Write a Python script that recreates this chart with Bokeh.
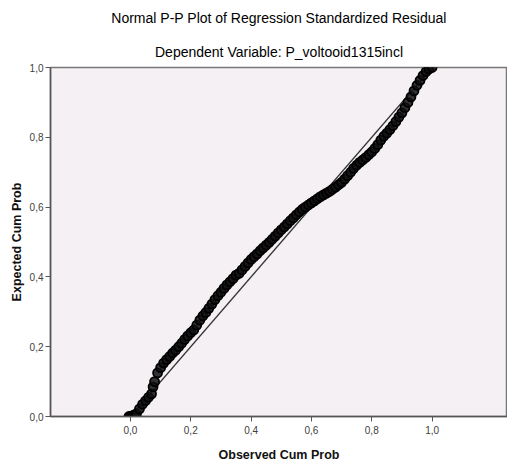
from bokeh.plotting import figure
from bokeh.models import Title, FixedTicker, CustomJSTickFormatter, Range1d
from bokeh.embed import file_html
from bokeh.resources import INLINE

title_line1 = "Normal P-P Plot of Regression Standardized Residual"
title_line2 = "Dependent Variable: P_voltooid1315incl"
x_label = "Observed Cum Prob"
y_label = "Expected Cum Prob"
tick_values = [0.0, 0.2, 0.4, 0.6, 0.8, 1.0]

observed = [
    -0.005, 0.0, 0.005, 0.01, 0.015, 0.02, 0.03, 0.04, 0.05, 0.06, 0.07, 0.075, 0.08, 0.09,
    0.10, 0.11, 0.12, 0.13, 0.14, 0.15, 0.16, 0.17, 0.18, 0.19,
    0.20, 0.21, 0.22, 0.23, 0.24, 0.25, 0.26, 0.27, 0.28, 0.29,
    0.30, 0.31, 0.32, 0.33, 0.34, 0.35, 0.36, 0.37, 0.38, 0.39,
    0.40, 0.41, 0.42, 0.43, 0.44, 0.45, 0.46, 0.47, 0.48, 0.49,
    0.50, 0.51, 0.52, 0.53, 0.54, 0.55, 0.56, 0.57, 0.58, 0.59,
    0.60, 0.61, 0.62, 0.63, 0.64, 0.65, 0.66, 0.67, 0.68, 0.69,
    0.70, 0.71, 0.72, 0.73, 0.74, 0.75, 0.76, 0.77, 0.78, 0.79,
    0.80, 0.81, 0.82, 0.83, 0.84, 0.85, 0.86, 0.87, 0.88, 0.89,
    0.90, 0.91, 0.92, 0.93, 0.94, 0.95, 0.96, 0.97, 0.98, 0.99, 1.0,
]
expected = [
    0.0, 0.0, 0.002, 0.003, 0.005, 0.008, 0.022, 0.035, 0.045, 0.055, 0.065, 0.085, 0.10, 0.125,
    0.14, 0.153, 0.163, 0.172, 0.182, 0.19, 0.20, 0.21, 0.221, 0.231,
    0.24, 0.248, 0.262, 0.276, 0.288, 0.298, 0.31, 0.322, 0.335, 0.346,
    0.356, 0.367, 0.377, 0.386, 0.395, 0.405, 0.41, 0.42, 0.43, 0.44,
    0.45, 0.458, 0.466, 0.475, 0.483, 0.491, 0.499, 0.508, 0.517, 0.526,
    0.535, 0.543, 0.552, 0.561, 0.569, 0.578, 0.586, 0.594, 0.60, 0.606,
    0.612, 0.618, 0.624, 0.63, 0.635, 0.64, 0.645, 0.651, 0.657, 0.664,
    0.671, 0.68, 0.69, 0.70, 0.711, 0.72, 0.728, 0.735, 0.742, 0.75,
    0.758, 0.768, 0.779, 0.792, 0.803, 0.812, 0.822, 0.833, 0.845, 0.858,
    0.87, 0.885, 0.90, 0.916, 0.933, 0.949, 0.963, 0.977, 0.988, 0.996, 1.0,
]
ref_line = [0.0, 1.0]

FONT = "Liberation Sans"

p = figure(frame_width=457, frame_height=349, output_backend="svg", toolbar_location=None,
           x_range=Range1d(-0.265, 1.25), y_range=Range1d(0, 1),
           min_border_left=50, min_border_right=0, min_border_top=67, min_border_bottom=45)
p.title = None
p.background_fill_color = "#F4F0F4"
p.border_fill_color = "white"
p.outline_line_color = "#777777"
p.outline_line_width = 1.5
p.grid.visible = False

p.add_layout(Title(text=title_line2, align="center", text_font=FONT, text_font_size="14px",
                   text_font_style="normal", text_color="#000000", standoff=16), "above")
p.add_layout(Title(text=title_line1, align="center", text_font=FONT, text_font_size="14px",
                   text_font_style="normal", text_color="#000000", standoff=15), "above")

fmt = CustomJSTickFormatter(code="return tick.toFixed(1).replace('.', ',');")
for ax in (p.xaxis[0], p.yaxis[0]):
    ax.ticker = FixedTicker(ticks=tick_values)
    ax.formatter = fmt
    ax.minor_tick_line_color = None
    ax.major_tick_in = 0
    ax.major_tick_out = 5
    ax.major_tick_line_color = "#555555"
    ax.axis_line_color = "#555555"
    ax.axis_line_width = 1.5
    ax.major_label_text_font = FONT
    ax.major_label_text_font_size = "10px"
    ax.major_label_text_color = "#404040"
    ax.major_label_standoff = 2
    ax.axis_label_text_font = FONT
    ax.axis_label_text_font_size = "12.5px"
    ax.axis_label_text_font_style = "bold"
    ax.axis_label_text_color = "#111111"

p.xaxis.major_label_standoff = 4
p.xaxis.axis_label = x_label
p.yaxis.axis_label = y_label
p.xaxis.axis_label_standoff = 11
p.yaxis.axis_label_standoff = 3

p.line(ref_line, ref_line, line_color="#333333", line_width=1.2)
p.scatter(observed, expected, marker="circle", size=9, fill_color="#111111", fill_alpha=0.85,
          line_color="black", line_width=1.8)

open("out.html", "w").write(file_html(p, INLINE))
